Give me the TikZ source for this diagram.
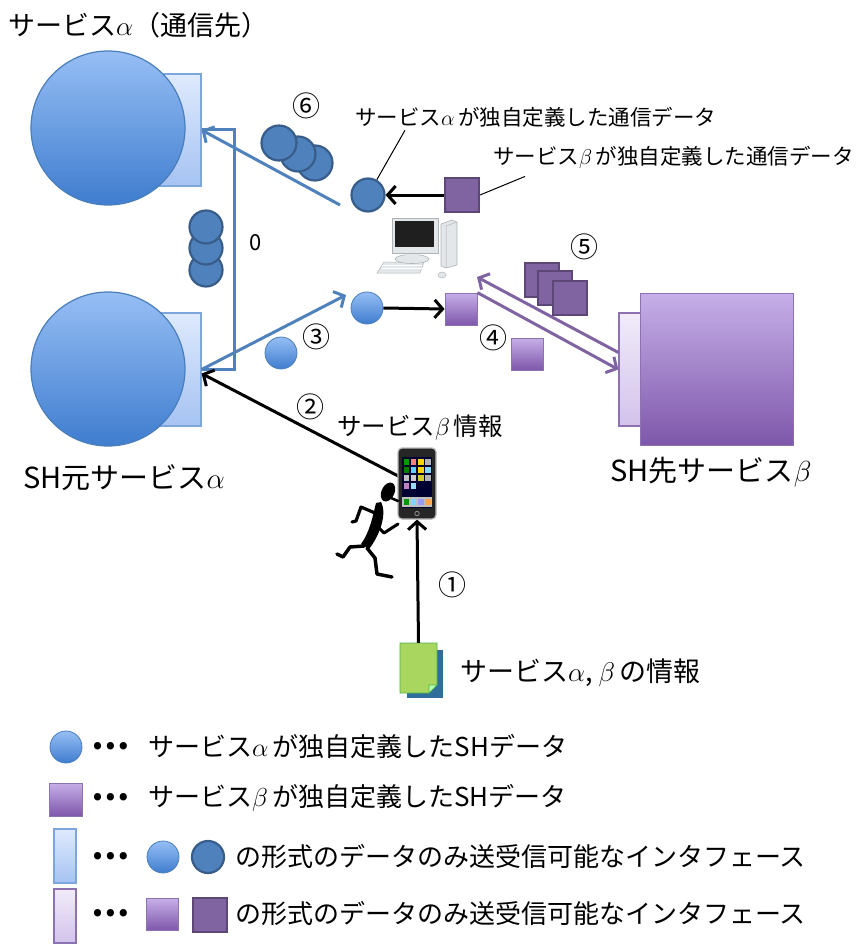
\RequirePackage{fix-cm}
\documentclass[tikz,border=0pt]{standalone}
\usepackage{fontspec}
\setmainfont{Noto Sans CJK JP}
\usetikzlibrary{calc,arrows.meta}

% service colours
\definecolor{aTop}{HTML}{96BEF4}
\definecolor{aBot}{HTML}{3F7DCF}
\definecolor{aEdge}{HTML}{4A7EBB}
\definecolor{aDark}{HTML}{4F81BD}
\definecolor{aDarkEdge}{HTML}{385D8A}
\definecolor{ifaTop}{HTML}{DFEAFD}
\definecolor{ifaBot}{HTML}{A6C3F2}
\definecolor{ifaEdge}{HTML}{7EA6DE}
\definecolor{bTop}{HTML}{C6AFE8}
\definecolor{bBot}{HTML}{7E57AA}
\definecolor{bEdge}{HTML}{8C72B0}
\definecolor{bDark}{HTML}{8064A2}
\definecolor{bDarkEdge}{HTML}{5C4776}
\definecolor{ifbTop}{HTML}{F1EBF9}
\definecolor{ifbBot}{HTML}{D2C3EA}
\definecolor{pcGray}{HTML}{E4E7E9}
\definecolor{pcEdge}{HTML}{AEB4B8}
\definecolor{docGreen}{HTML}{A9D65E}
\definecolor{docBlue}{HTML}{2F6E9C}

\newcommand{\fs}[1]{\fontsize{#1}{#1}\selectfont}

\begin{document}
\begin{tikzpicture}[x=1pt, y=-1pt, >={Straight Barb[length=8pt,width=18pt]},
    svcA/.style={circle, draw=aEdge, line width=1.2pt, top color=aTop, bottom color=aBot, minimum size=154pt, inner sep=0pt},
    svcB/.style={rectangle, draw=bEdge, line width=1pt, top color=bTop, bottom color=bBot, minimum width=153pt, minimum height=152pt},
    ifA/.style={rectangle, draw=ifaEdge, line width=1.2pt, top color=ifaTop, bottom color=ifaBot, inner sep=0pt},
    ifB/.style={rectangle, draw=bEdge, line width=1.2pt, top color=ifbTop, bottom color=ifbBot, inner sep=0pt},
    dataA/.style={circle, draw=aEdge, line width=0.8pt, top color=aTop, bottom color=aBot, minimum size=32pt, inner sep=0pt},
    ownA/.style={circle, draw=aDarkEdge, line width=2.2pt, fill=aDark, minimum size=33pt, inner sep=0pt},
    dataB/.style={rectangle, draw=bEdge, line width=0.8pt, top color=bTop, bottom color=bBot, minimum size=32pt, inner sep=0pt},
    ownB/.style={rectangle, draw=bDarkEdge, line width=2pt, fill=bDark, minimum size=32pt, inner sep=0pt},
    num/.style={font=\fs{28}, inner sep=0pt},
    keytext/.style={anchor=west, font=\fs{26}, inner sep=0pt},
    dots/.style={font=\fs{34}\bfseries, inner sep=0pt},
    flowA/.style={draw=aDark, line width=3pt},
    flowB/.style={draw=bDark, line width=3pt},
    flow/.style={draw=black, line width=3pt}]
  \useasboundingbox (0,0) rectangle (861,944);

  % titles
  \node[anchor=west, font=\fs{27}, inner sep=0pt] (title) at (8,25) {サービス$\alpha$（通信先）};
  \node[font=\fs{29}, inner sep=0pt] (srcName) at (124,478) {SH元サービス$\alpha$};
  \node[font=\fs{29}, inner sep=0pt] (dstName) at (711,472) {SH先サービス$\beta$};

  % service alpha (peer) and source service alpha
  \node[ifA, minimum width=72pt, minimum height=112pt] (ifTop) at (165,130) {};
  \node[svcA] (peerA) at (108,128) {};
  \node[ifA, minimum width=72pt, minimum height=113pt] (ifBot) at (165,369.5) {};
  \node[svcA] (srcA) at (108,369) {};

  % target service beta
  \node[ifB, minimum width=42pt, minimum height=113pt] (ifBeta) at (640,369.5) {};
  \node[svcB] (dstB) at (716.5,369) {};

  % stacked data (path 0)
  \node[ownA] (s3) at (206,270) {};
  \node[ownA] (s2) at (206,248) {};
  \node[ownA] (s1) at (206,227) {};
  \draw[flowA] (ifBot.east) -- ++(33,0) |- (ifTop.east);
  \node[font=\fs{22}, inner sep=0pt] (zero) at (256,243) {0};

  % data near the PC
  \node[ownA] (ownAlpha) at (368,195) {};
  \node[ownB, minimum size=34pt] (ownBeta) at (462,195) {};
  \node[dataA] (shAlpha) at (367,308) {};
  \node[dataB] (shBeta) at (461,309) {};
  \draw[flow, ->] (ownBeta.west) -- (ownAlpha.east);
  \draw[flow, ->] (shAlpha.east) -- (shBeta.west);

  % leader labels
  \node[anchor=west, font=\fs{21.5}, inner sep=0pt] (lblAlpha) at (355,117) {サービス$\alpha$\,が独自定義した通信データ};
  \node[anchor=west, font=\fs{21.5}, inner sep=0pt] (lblBeta) at (493,157) {サービス$\beta$\,が独自定義した通信データ};
  \draw[line width=1pt] (ownAlpha.60) -- ($(lblAlpha.south west)+(50,3)$);
  \draw[line width=1pt] (ownBeta.east) -- ($(lblBeta.south west)+(32,8)$);

  % step 6
  \node[ownA, minimum size=35pt] (r3) at (315,163) {};
  \node[ownA, minimum size=35pt] (r2) at (298,154) {};
  \node[ownA, minimum size=35pt] (r1) at (279,143) {};
  \coordinate (back6) at (340,205);
  \draw[flowA, ->] (back6) -- (ifTop.east);
  \node[num] (n6) at (306,106) {⑥};

  % step 3
  \node[dataA] (sent3) at (281,353) {};
  \coordinate (to3) at (346,295);
  \draw[flowA, ->] (ifBot.east) -- (to3);
  \node[num] (n3) at (316,337) {③};

  % steps 4 and 5
  \coordinate (pcIn) at (477,277);
  \draw[flowB, ->] ([yshift=17pt]ifBeta.west) -- (pcIn);
  \draw[flowB, ->] (shBeta.north east) -- (ifBeta.west);
  \node[dataB] (sent4) at (527.5,354) {};
  \node[num] (n4) at (493,338) {④};
  \node[ownB, minimum size=34pt] (q1) at (541.5,280) {};
  \node[ownB, minimum size=34pt] (q2) at (554.5,288) {};
  \node[ownB, minimum size=34pt] (q3) at (569.5,298) {};
  \node[num] (n5) at (584,247) {⑤};

  % PC
  \fill[pcGray] (384,262) -- (424,262) -- (420,273) -- (377,273) -- cycle;
  \draw[pcEdge, line width=0.5pt] (384,262) -- (424,262) -- (420,273) -- (377,273) -- cycle;
  \foreach \k in {265,268.5} \draw[white, line width=0.8pt] (382,\k) -- (422,\k);
  \draw[fill=pcGray, draw=pcEdge, line width=0.6pt] (412,259) ellipse (17pt and 4.5pt);
  \fill[pcGray] (406,250) rectangle (418,258);
  \draw[fill=pcGray, draw=pcEdge, line width=0.6pt] (392,218) rectangle (438,253);
  \fill[black!88] (395,221) rectangle (434,247);
  \draw[fill=pcGray, draw=pcEdge, line width=0.6pt] (441,224) -- (452,220) -- (457,222) -- (457,265) -- (446,268) -- (441,266) -- cycle;
  \draw[pcEdge, line width=0.5pt] (446,268) -- (446,226) -- (457,222);
  \draw[fill=pcGray, draw=pcEdge, line width=0.5pt] (442,275) ellipse (4pt and 3pt);

  % step 2: phone and runner
  \draw[flow, ->] (400,477) -- ([yshift=-4pt]ifBot.east);
  \node[num] (n2) at (310,407) {②};
  \node[font=\fs{24.5}, inner sep=0pt] (lblPhone) at (420,428) {サービス$\beta$\,情報};
  \node[rectangle, rounded corners=4pt, draw=gray!55, fill=black!85, line width=1.2pt, minimum width=38pt, minimum height=71pt, inner sep=0pt] (phone) at (417,483.5) {};
  \fill[black!80!blue] (402,457) rectangle (432,508);
  \foreach \clr [count=\n from 0] in {green!60!black, red!50, yellow!70!orange, gray!60,
      green!50!black, cyan!60, yellow!70!orange, cyan!50, gray!50, gray!40, yellow!80!black, gray!60, violet!50, cyan!40} {
    \pgfmathsetmacro\cx{403.5+7.3*mod(\n,4)}
    \pgfmathsetmacro\cy{459+8*floor(\n/4)}
    \fill[\clr] (\cx,\cy) rectangle ++(5.5,5.5);
  }
  \fill[gray!50] (402,497) rectangle (432,507);
  \foreach \clr [count=\n from 0] in {green!60!black, cyan!50, blue!40, orange!70} {
    \pgfmathsetmacro\cx{403.5+7.3*\n}
    \fill[\clr] (\cx,499) rectangle ++(5.5,5.5);
  }
  \draw[gray!70, line width=0.6pt] (417,513.5) circle (2.2pt);

  % runner
  \fill[rotate around={-25:(388,492)}] (388,492) ellipse (6.5pt and 10pt);
  \draw[line width=2.5pt, line cap=round] (391,498) -- (398,501);
  \fill (381,502) .. controls (388,515) and (378,538) .. (369,549) -- (361,544) .. controls (370,532) and (373,515) .. (376,503) -- cycle;
  \draw[line width=3.2pt, line cap=round, line join=round] (375,513) -- (361,507) -- (356,521) -- (352,522);
  \draw[line width=3pt, line cap=round, line join=round] (373,522) -- (384,533) -- (398,524);
  \draw[line width=3.5pt, line cap=round, line join=round] (364,546) -- (350,547) -- (343,557) -- (337,554);
  \draw[line width=3.5pt, line cap=round, line join=round] (367,548) -- (375,558) -- (377,574) -- (392,577);

  % step 1: the info document
  \fill[docBlue] (407,650) rectangle (443,698);
  \node[inner sep=0pt, minimum width=37pt, minimum height=50pt] (doc) at (418.5,668) {};
  \filldraw[fill=docGreen, draw=green!40!gray, line width=0.6pt] (400,643) -- (437,643) -- (437,685) -- (429,693) -- (400,693) -- cycle;
  \filldraw[fill=green!30!white, draw=green!40!gray, line width=0.6pt] (437,685) -- (429,685) -- (429,693) -- cycle;
  \draw[flow, ->] (doc.north) -- (phone.south);
  \node[num] (n1) at (452,585) {①};
  \node[anchor=west, font=\fs{27}, inner sep=0pt] (lblDoc) at (460,673) {サービス$\alpha$, $\beta$\,の情報};

  % legend
  \node[dataA] (keyA) at (66,747) {};
  \node[dots] (dotsA) at (111,746) {…};
  \node[keytext] (txtA) at (148,747) {サービス$\alpha$\,が独自定義したSHデータ};
  \node[dataB, minimum size=33pt] (keyB) at (65.5,799.5) {};
  \node[dots] (dotsB) at (111,797) {…};
  \node[keytext] (txtB) at (148,798) {サービス$\beta$\,が独自定義したSHデータ};
  \node[ifA, minimum width=22pt, minimum height=54pt] (keyIfA) at (65,856) {};
  \node[dots] (dotsC) at (111,856) {…};
  \node[dataA] (keyA1) at (163,857) {};
  \node[ownA, minimum size=32pt] (keyA2) at (208,857) {};
  \node[keytext] (txtC) at (235,857) {の形式のデータのみ送受信可能なインタフェース};
  \node[ifB, minimum width=22pt, minimum height=54pt] (keyIfB) at (65,916) {};
  \node[dots] (dotsD) at (111,913) {…};
  \node[dataB] (keyB1) at (162,914.5) {};
  \node[ownB, minimum size=34pt] (keyB2) at (209.5,915) {};
  \node[keytext] (txtD) at (235,914) {の形式のデータのみ送受信可能なインタフェース};
\end{tikzpicture}
\end{document}
